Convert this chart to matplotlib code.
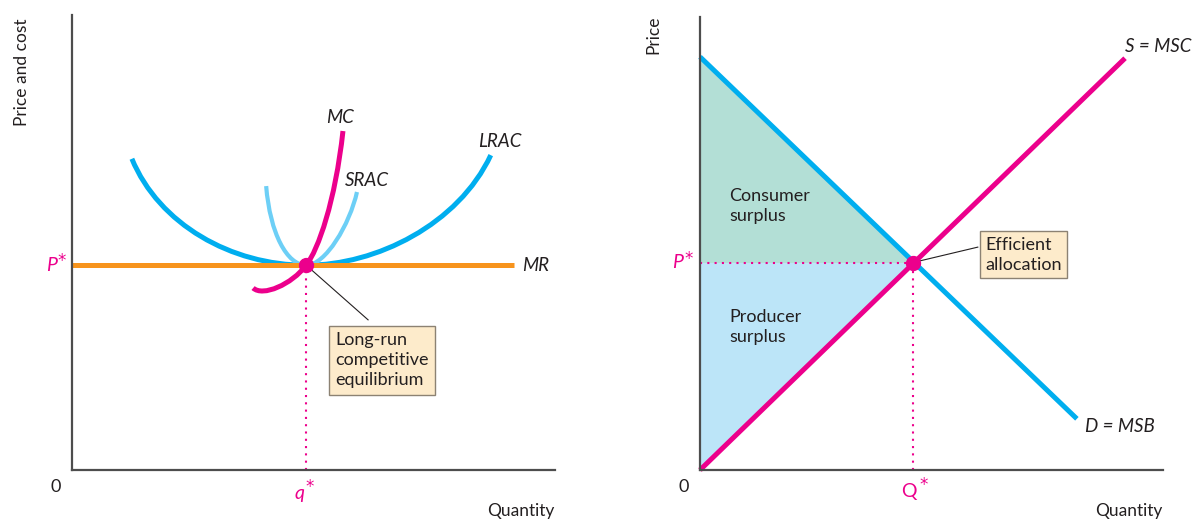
import numpy as np
import matplotlib.pyplot as plt
from matplotlib.path import Path
from matplotlib.patches import PathPatch

plt.rcParams['font.family'] = ['Lato', 'DejaVu Sans']

BLUE = '#00aeef'
LIGHT_BLUE = '#6dcff6'
MAGENTA = '#ec008c'
ORANGE = '#f7941d'
AXIS = '#4d4d4d'
TEXT = '#231f20'
BOX_FILL = '#fdebcb'
BOX_EDGE = '#8c8273'
CS_FILL = '#b3dfd6'
PS_FILL = '#bce5f8'

# left panel (both axes run 0..10); curves given as cubic bezier points
# start, ctrl, ctrl, joint, ctrl, ctrl, end
lrac_q = [1.24, 1.80, 3.30, 4.85, 6.30, 8.00, 8.67]
lrac_p = [6.84, 5.40, 4.50, 4.50, 4.50, 5.40, 6.92]
srac_q = [4.02, 4.10, 4.45, 4.85, 5.25, 5.75, 5.90]
srac_p = [6.24, 5.20, 4.50, 4.50, 4.50, 5.40, 6.11]
mc_q = [3.75, 3.95, 4.55, 4.85, 5.10, 5.45, 5.61]
mc_p = [4.00, 3.80, 4.08, 4.50, 4.85, 5.90, 7.45]
mr_q = [0, 9.15]
mr_p = [4.5, 4.5]
q_star = 4.85
p_star_left = 4.5

# right panel (both axes run 0..10)
demand_q = [0, 8.14]
demand_p = [9.12, 1.13]
supply_q = [0, 9.18]
supply_p = [0, 9.09]
Q_star = 4.6
P_star = 4.58

W, H = 1202, 522
fig = plt.figure(figsize=(W / 100, H / 100), dpi=100)
ax1 = fig.add_axes([72 / W, 52 / H, 483 / W, 455 / H])
ax2 = fig.add_axes([700 / W, 52 / H, 463 / W, 453 / H])


def bezier(ax, qs, ps, color, lw):
    codes = [Path.MOVETO] + [Path.CURVE4] * (len(qs) - 1)
    patch = PathPatch(Path(np.column_stack([qs, ps]), codes), fill=False,
                      ec=color, lw=lw, capstyle='butt', joinstyle='round')
    ax.add_patch(patch)


def star_label(ax, xy, letter, letter_off, star_off, italic=True):
    ax.annotate(letter, xy=xy, xytext=letter_off, textcoords='offset pixels',
                ha='center', va='center', fontsize=14, color=MAGENTA,
                style='italic' if italic else 'normal')
    ax.annotate('*', xy=xy, xytext=star_off, textcoords='offset pixels',
                ha='center', va='center', fontsize=12, color=MAGENTA,
                family='DejaVu Sans')


for ax in (ax1, ax2):
    ax.set_xlim(0, 10)
    ax.set_ylim(0, 10)
    for s in ('top', 'right'):
        ax.spines[s].set_visible(False)
    for s in ('left', 'bottom'):
        ax.spines[s].set_color(AXIS)
        ax.spines[s].set_linewidth(1.6)
    ax.set_xticks([])
    ax.set_yticks([])
    ax.patch.set_alpha(0)
    ax.annotate('0', xy=(0, 0), xytext=(-16, -17), textcoords='offset pixels',
                ha='center', va='center', fontsize=13, color=TEXT)
    ax.text(1.0, -0.09, 'Quantity', transform=ax.transAxes, ha='right', va='center',
            fontsize=12.5, color=TEXT)

label_kw = dict(fontsize=13.5, color=TEXT, style='italic')
box_kw = dict(fontsize=13, color=TEXT, linespacing=1.3)

# ---- left panel
ax1.plot(mr_q, mr_p, color=ORANGE, lw=3.6, solid_capstyle='butt', clip_on=False)
bezier(ax1, lrac_q, lrac_p, BLUE, 3.6)
bezier(ax1, srac_q, srac_p, LIGHT_BLUE, 3.0)
bezier(ax1, mc_q, mc_p, MAGENTA, 3.6)
ax1.plot([q_star, q_star], [0, p_star_left], color=MAGENTA, lw=1.5, ls=(0, (1, 2.5)))
ax1.plot([q_star, 6.13], [p_star_left, 3.30], color=TEXT, lw=0.8)
ax1.plot(q_star, p_star_left, 'o', color=MAGENTA, ms=10, zorder=5)

ax1.text(5.55, 7.74, 'MC', ha='center', va='center', **label_kw)
ax1.text(6.11, 6.37, 'SRAC', ha='center', va='center', **label_kw)
ax1.text(8.86, 7.21, 'LRAC', ha='center', va='center', **label_kw)
ax1.text(9.32, 4.5, 'MR', ha='left', va='center', **label_kw)
ax1.text(5.45, 2.41, 'Long-run\ncompetitive\nequilibrium', ha='left', va='center',
         bbox=dict(boxstyle='square,pad=0.35', fc=BOX_FILL, ec=BOX_EDGE, lw=1), **box_kw)
star_label(ax1, (0, p_star_left), 'P', (-20, 0), (-10, 4))
star_label(ax1, (q_star, 0), 'q', (-7, -23), (3, -17))
fig.text(22 / W, 1 - 72 / H, 'Price and cost', rotation=90, ha='center', va='center',
         fontsize=12.5, color=TEXT)

# ---- right panel
fill_q = [0, Q_star]
d_top = np.interp(fill_q, demand_q, demand_p)
s_bot = np.interp(fill_q, supply_q, supply_p)
ax2.fill_between(fill_q, [P_star, P_star], d_top, color=CS_FILL, lw=0)
ax2.fill_between(fill_q, s_bot, [P_star, P_star], color=PS_FILL, lw=0)
ax2.plot(demand_q, demand_p, color=BLUE, lw=3.6, solid_capstyle='butt', clip_on=False)
ax2.plot(supply_q, supply_p, color=MAGENTA, lw=3.6, solid_capstyle='butt', clip_on=False)
ax2.plot([0, Q_star], [P_star, P_star], color=MAGENTA, lw=1.5, ls=(0, (1, 2.5)))
ax2.plot([Q_star, Q_star], [0, P_star], color=MAGENTA, lw=1.5, ls=(0, (1, 2.5)))
ax2.plot([Q_star, 6.0], [P_star, 4.92], color=TEXT, lw=0.8)
ax2.plot(Q_star, P_star, 'o', color=MAGENTA, ms=10, zorder=5)

ax2.text(9.18, 9.34, 'S = MSC', ha='left', va='center', **label_kw)
ax2.text(8.32, 0.97, 'D = MSB', ha='left', va='center', **label_kw)
ax2.text(0.63, 5.83, 'Consumer\nsurplus', ha='left', va='center', **box_kw)
ax2.text(0.63, 3.16, 'Producer\nsurplus', ha='left', va='center', **box_kw)
ax2.text(6.16, 4.75, 'Efficient\nallocation', ha='left', va='center',
         bbox=dict(boxstyle='square,pad=0.3', fc=BOX_FILL, ec=BOX_EDGE, lw=1), **box_kw)
star_label(ax2, (0, P_star), 'P', (-22, 0), (-11, 4))
star_label(ax2, (Q_star, 0), 'Q', (-4, -21), (11, -15), italic=False)
fig.text(653 / W, 1 - 35 / H, 'Price', rotation=90, ha='center', va='center',
         fontsize=12.5, color=TEXT)

fig.savefig('out.png', dpi=100)
